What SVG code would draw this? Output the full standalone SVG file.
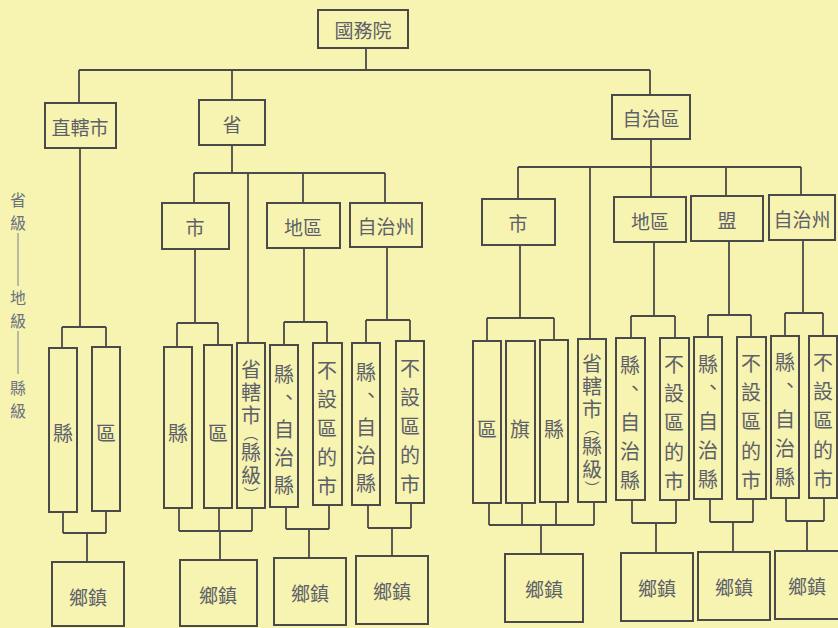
<svg xmlns="http://www.w3.org/2000/svg" width="838" height="628" viewBox="0 0 838 628">
<style>
.b{fill:none;stroke:#4a4a4a;stroke-width:2}
.c line{stroke:#4a4a4a;stroke-width:1.8}
text{font-family:"Noto Sans CJK TC","Noto Sans CJK SC",sans-serif;fill:#5c6068;text-anchor:middle;dominant-baseline:central}
.h{font-size:19px}
.v{font-size:20px}
.p{font-size:15px}
.s{font-size:16px;fill:#6a7280}
</style>
<rect width="838" height="628" fill="#f7f3b1"/>
<g id="side">
<text class="s" x="18" y="199">省</text>
<text class="s" x="18" y="222">級</text>
<line x1="18" y1="233" x2="18" y2="286" stroke="#7a8290" stroke-width="1"/>
<text class="s" x="18" y="297">地</text>
<text class="s" x="18" y="320">級</text>
<line x1="18" y1="331" x2="18" y2="374" stroke="#7a8290" stroke-width="1"/>
<text class="s" x="18" y="387">縣</text>
<text class="s" x="18" y="410">級</text>
</g>
<g id="connectors" class="c">
<line x1="366" y1="48" x2="366" y2="70"/>
<line x1="79" y1="70" x2="650" y2="70"/>
<line x1="79" y1="70" x2="79" y2="103"/>
<line x1="232" y1="70" x2="232" y2="100"/>
<line x1="650" y1="70" x2="650" y2="95"/>
<line x1="80" y1="148" x2="80" y2="327"/>
<line x1="62" y1="327" x2="106" y2="327"/>
<line x1="62" y1="327" x2="62" y2="348"/>
<line x1="106" y1="327" x2="106" y2="347"/>
<line x1="63" y1="512" x2="63" y2="533"/>
<line x1="106" y1="511" x2="106" y2="533"/>
<line x1="63" y1="533" x2="106" y2="533"/>
<line x1="87" y1="533" x2="87" y2="562"/>
<line x1="232" y1="145" x2="232" y2="173"/>
<line x1="194" y1="173" x2="385" y2="173"/>
<line x1="194" y1="173" x2="194" y2="203"/>
<line x1="248" y1="173" x2="248" y2="343"/>
<line x1="303" y1="173" x2="303" y2="203"/>
<line x1="385" y1="173" x2="385" y2="203"/>
<line x1="195" y1="249" x2="195" y2="323"/>
<line x1="177" y1="323" x2="218" y2="323"/>
<line x1="177" y1="323" x2="177" y2="347"/>
<line x1="218" y1="323" x2="218" y2="345"/>
<line x1="179" y1="508" x2="179" y2="531"/>
<line x1="219" y1="508" x2="219" y2="531"/>
<line x1="252" y1="508" x2="252" y2="531"/>
<line x1="179" y1="531" x2="252" y2="531"/>
<line x1="220" y1="531" x2="220" y2="560"/>
<line x1="304" y1="248" x2="304" y2="322"/>
<line x1="284" y1="322" x2="327" y2="322"/>
<line x1="284" y1="322" x2="284" y2="345"/>
<line x1="327" y1="322" x2="327" y2="343"/>
<line x1="286" y1="507" x2="286" y2="529"/>
<line x1="329" y1="505" x2="329" y2="529"/>
<line x1="286" y1="529" x2="329" y2="529"/>
<line x1="309" y1="529" x2="309" y2="558"/>
<line x1="387" y1="247" x2="387" y2="320"/>
<line x1="366" y1="320" x2="410" y2="320"/>
<line x1="366" y1="320" x2="366" y2="343"/>
<line x1="410" y1="320" x2="410" y2="341"/>
<line x1="368" y1="505" x2="368" y2="528"/>
<line x1="411" y1="503" x2="411" y2="528"/>
<line x1="368" y1="528" x2="411" y2="528"/>
<line x1="392" y1="528" x2="392" y2="556"/>
<line x1="651" y1="139" x2="651" y2="167"/>
<line x1="518" y1="167" x2="801" y2="167"/>
<line x1="518" y1="167" x2="518" y2="199"/>
<line x1="590" y1="167" x2="590" y2="339"/>
<line x1="651" y1="167" x2="651" y2="197"/>
<line x1="726" y1="167" x2="726" y2="196"/>
<line x1="801" y1="167" x2="801" y2="195"/>
<line x1="520" y1="245" x2="520" y2="318"/>
<line x1="487" y1="318" x2="554" y2="318"/>
<line x1="487" y1="318" x2="487" y2="341"/>
<line x1="554" y1="318" x2="554" y2="340"/>
<line x1="489" y1="503" x2="489" y2="525"/>
<line x1="522" y1="503" x2="522" y2="525"/>
<line x1="556" y1="502" x2="556" y2="525"/>
<line x1="594" y1="502" x2="594" y2="525"/>
<line x1="489" y1="525" x2="594" y2="525"/>
<line x1="541" y1="525" x2="541" y2="554"/>
<line x1="654" y1="242" x2="654" y2="316"/>
<line x1="631" y1="316" x2="675" y2="316"/>
<line x1="631" y1="316" x2="631" y2="338"/>
<line x1="675" y1="316" x2="675" y2="338"/>
<line x1="632" y1="500" x2="632" y2="523"/>
<line x1="676" y1="500" x2="676" y2="523"/>
<line x1="632" y1="523" x2="676" y2="523"/>
<line x1="656" y1="523" x2="656" y2="553"/>
<line x1="729" y1="241" x2="729" y2="315"/>
<line x1="708" y1="315" x2="751" y2="315"/>
<line x1="708" y1="315" x2="708" y2="337"/>
<line x1="751" y1="315" x2="751" y2="337"/>
<line x1="710" y1="499" x2="710" y2="522"/>
<line x1="753" y1="499" x2="753" y2="522"/>
<line x1="710" y1="522" x2="753" y2="522"/>
<line x1="733" y1="522" x2="733" y2="552"/>
<line x1="803" y1="240" x2="803" y2="313"/>
<line x1="785" y1="313" x2="823" y2="313"/>
<line x1="785" y1="313" x2="785" y2="336"/>
<line x1="823" y1="313" x2="823" y2="336"/>
<line x1="786" y1="498" x2="786" y2="521"/>
<line x1="824" y1="498" x2="824" y2="521"/>
<line x1="786" y1="521" x2="824" y2="521"/>
<line x1="807" y1="521" x2="807" y2="551"/>
</g>
<g id="guowuyuan"><rect class="b" x="318" y="10" width="90" height="38"/><text class="h" x="363" y="29">國務院</text></g>
<g id="zhixiashi"><rect class="b" x="45" y="103" width="71" height="45"/><text class="h" x="80" y="126">直轄市</text></g>
<g id="sheng"><rect class="b" x="199" y="100" width="66" height="45"/><text class="h" x="232" y="123">省</text></g>
<g id="zizhiqu"><rect class="b" x="612" y="95" width="78" height="44"/><text class="h" x="651" y="117">自治區</text></g>

<g id="zx-xian"><rect class="b" x="49" y="348" width="28" height="164"/><text class="v" x="63" y="432">縣</text></g>
<g id="zx-qu"><rect class="b" x="92" y="347" width="28" height="164"/><text class="v" x="106" y="432">區</text></g>
<g id="zx-xiangzhen"><rect class="b" x="52" y="562" width="72" height="64"/><text class="h" x="88" y="596">鄉鎮</text></g>

<g id="s-shi"><rect class="b" x="162" y="203" width="67" height="46"/><text class="h" x="195" y="226">市</text></g>
<g id="s-diqu"><rect class="b" x="267" y="203" width="73" height="45"/><text class="h" x="303" y="226">地區</text></g>
<g id="s-zizhizhou"><rect class="b" x="350" y="203" width="72" height="44"/><text class="h" x="386" y="225">自治州</text></g>

<g id="s-shi-xian"><rect class="b" x="164" y="347" width="28" height="161"/><text class="v" x="178" y="432">縣</text></g>
<g id="s-shi-qu"><rect class="b" x="204" y="345" width="28" height="163"/><text class="v" x="218" y="432">區</text></g>
<g id="s-shengxiashi"><rect class="b" x="237" y="343" width="28" height="165"/>
<text class="v" x="251" y="368">省</text><text class="v" x="251" y="391">轄</text><text class="v" x="251" y="414">市</text><text class="p" x="251" y="432">︵</text><text class="v" x="251" y="451">縣</text><text class="v" x="251" y="474">級</text><text class="p" x="251" y="493">︶</text></g>
<g id="s-diqu-xian"><rect class="b" x="270" y="345" width="28" height="162"/>
<text class="v" x="284" y="373">縣</text><text class="v" x="289" y="396">、</text><text class="v" x="284" y="428">自</text><text class="v" x="284" y="456">治</text><text class="v" x="284" y="484">縣</text></g>
<g id="s-diqu-shi"><rect class="b" x="313" y="343" width="29" height="162"/>
<text class="v" x="327" y="369">不</text><text class="v" x="327" y="398">設</text><text class="v" x="327" y="427">區</text><text class="v" x="327" y="456">的</text><text class="v" x="327" y="485">市</text></g>
<g id="s-zzz-xian"><rect class="b" x="352" y="343" width="28" height="162"/>
<text class="v" x="366" y="371">縣</text><text class="v" x="371" y="394">、</text><text class="v" x="366" y="426">自</text><text class="v" x="366" y="454">治</text><text class="v" x="366" y="482">縣</text></g>
<g id="s-zzz-shi"><rect class="b" x="396" y="341" width="28" height="162"/>
<text class="v" x="410" y="367">不</text><text class="v" x="410" y="396">設</text><text class="v" x="410" y="425">區</text><text class="v" x="410" y="454">的</text><text class="v" x="410" y="483">市</text></g>
<g id="s-xz1"><rect class="b" x="180" y="560" width="77" height="66"/><text class="h" x="218" y="594">鄉鎮</text></g>
<g id="s-xz2"><rect class="b" x="274" y="558" width="72" height="67"/><text class="h" x="310" y="592">鄉鎮</text></g>
<g id="s-xz3"><rect class="b" x="356" y="556" width="72" height="68"/><text class="h" x="392" y="590">鄉鎮</text></g>

<g id="z-shi"><rect class="b" x="482" y="199" width="73" height="46"/><text class="h" x="518" y="222">市</text></g>
<g id="z-diqu"><rect class="b" x="614" y="197" width="72" height="45"/><text class="h" x="650" y="220">地區</text></g>
<g id="z-meng"><rect class="b" x="691" y="196" width="72" height="45"/><text class="h" x="727" y="219">盟</text></g>
<g id="z-zizhizhou"><rect class="b" x="769" y="195" width="66" height="45"/><text class="h" x="802" y="218">自治州</text></g>

<g id="z-qu"><rect class="b" x="473" y="341" width="28" height="162"/><text class="v" x="487" y="428">區</text></g>
<g id="z-qi"><rect class="b" x="506" y="341" width="29" height="162"/><text class="v" x="520" y="428">旗</text></g>
<g id="z-xian"><rect class="b" x="540" y="340" width="28" height="162"/><text class="v" x="554" y="428">縣</text></g>
<g id="z-shengxiashi"><rect class="b" x="578" y="339" width="28" height="163"/>
<text class="v" x="592" y="362">省</text><text class="v" x="592" y="385">轄</text><text class="v" x="592" y="408">市</text><text class="p" x="592" y="426">︵</text><text class="v" x="592" y="445">縣</text><text class="v" x="592" y="468">級</text><text class="p" x="592" y="487">︶</text></g>
<g id="z-diqu-xian"><rect class="b" x="616" y="338" width="29" height="162"/>
<text class="v" x="630" y="364">縣</text><text class="v" x="635" y="387">、</text><text class="v" x="630" y="421">自</text><text class="v" x="630" y="450">治</text><text class="v" x="630" y="479">縣</text></g>
<g id="z-diqu-shi"><rect class="b" x="660" y="338" width="29" height="162"/>
<text class="v" x="674" y="363">不</text><text class="v" x="674" y="392">設</text><text class="v" x="674" y="421">區</text><text class="v" x="674" y="451">的</text><text class="v" x="674" y="480">市</text></g>
<g id="z-meng-xian"><rect class="b" x="694" y="337" width="28" height="162"/>
<text class="v" x="708" y="363">縣</text><text class="v" x="713" y="386">、</text><text class="v" x="708" y="420">自</text><text class="v" x="708" y="449">治</text><text class="v" x="708" y="478">縣</text></g>
<g id="z-meng-shi"><rect class="b" x="737" y="337" width="29" height="162"/>
<text class="v" x="751" y="362">不</text><text class="v" x="751" y="391">設</text><text class="v" x="751" y="420">區</text><text class="v" x="751" y="450">的</text><text class="v" x="751" y="479">市</text></g>
<g id="z-zzz-xian"><rect class="b" x="771" y="336" width="28" height="162"/>
<text class="v" x="785" y="361">縣</text><text class="v" x="790" y="384">、</text><text class="v" x="785" y="418">自</text><text class="v" x="785" y="447">治</text><text class="v" x="785" y="476">縣</text></g>
<g id="z-zzz-shi"><rect class="b" x="809" y="336" width="28" height="162"/>
<text class="v" x="823" y="361">不</text><text class="v" x="823" y="390">設</text><text class="v" x="823" y="419">區</text><text class="v" x="823" y="449">的</text><text class="v" x="823" y="478">市</text></g>
<g id="z-xz1"><rect class="b" x="505" y="554" width="78" height="68"/><text class="h" x="544" y="588">鄉鎮</text></g>
<g id="z-xz2"><rect class="b" x="621" y="553" width="72" height="68"/><text class="h" x="657" y="587">鄉鎮</text></g>
<g id="z-xz3"><rect class="b" x="698" y="552" width="72" height="68"/><text class="h" x="734" y="586">鄉鎮</text></g>
<g id="z-xz4"><rect class="b" x="775" y="551" width="68" height="68"/><text class="h" x="807" y="585">鄉鎮</text></g>
</svg>
